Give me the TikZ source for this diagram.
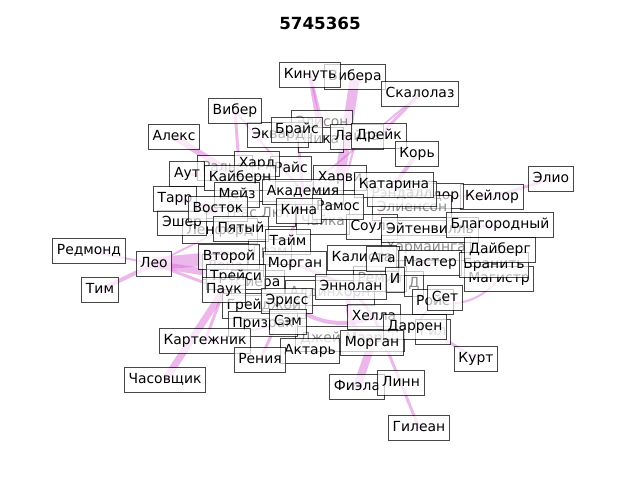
\documentclass[tikz,border=0pt]{standalone}
\usepackage{fontspec}
\setmainfont{DejaVu Sans}
\definecolor{ec}{RGB}{218,112,214}
\tikzset{
  lbl/.style={draw=black, draw opacity=0.72, fill=white, fill opacity=0.7, text opacity=1,
    line width=1pt, inner xsep=4.2pt, inner ysep=4.3pt, text height=11.3pt, text depth=4.2pt,
    font=\fontsize{13.9}{16}\selectfont},
  faint/.style={lbl, text opacity=0.45},
  ed/.style={draw=ec, draw opacity=0.5},
}
\begin{document}
\begin{tikzpicture}[x=1pt,y=-1pt]
\useasboundingbox (0,0) rectangle (640,480);
\node[font=\bfseries\fontsize{16.7}{19}\selectfont] (title) at (320,23) {5745365};
% coordinates of nodes
\foreach \n/\x/\y in {
 elison/322/123, ralf/225/168, harvi/340/178, rendall/402/194, elienson/412/208, teodor/433/196,
 raslut/262/214, chaika/323/222, souls/372/227, harm/426/248, lenford/220/231, grem/270/252,
 lena/225/267, siera/258/283, aldin/330/293, remia/380/279, kalista/362/258, djey/350/339,
 gil/433/332, greyd/264/306, prizrak/263/324, nika/321/140, layla/357/137, ekvard/278/135,
 rays/291/169, esher/182/223,
 vibera/355/77, kinut/310/75, skal/420/94, viber/235/111, aleks/174/137, brays/297/130,
 dreyk/379/136, kor/417/154, elio/551/179, aut/187/174, kayb/240/178, hard/257/164,
 tarr/175/199, meyz/237/195, akad/303/192, katar/394/185, vostok/218/209, ramos/338/207,
 kina/299/211, pyat/241/229, keylor/492/197, eyten/430/230, blag/500/225, taym/288/242,
 redm/89/251, leo/154/264, tim/100/290, vtor/229/257, morgan/295/264, aga/383/259,
 master/430/263, dayb/500/250, bran/494/265, magis/499/279, treysi/236/277, pauk/224/290,
 ii/395/280, dd/414/284, ennol/351/287, eriss/287/301, roys/433/302, set/445/298,
 hella/374/317, sem/288/322, darren/415/327, kartezh/205/341, morgan2/372/343,
 aktar/310/351, reniya/260/360, kurt/476/359, chasov/165/380, fiela/357/387, linn/401/383,
 gilean/419/428}
 {\coordinate (c-\n) at (\x,\y);}
% edges
\draw[ed, line width=13pt] (c-leo) -- (c-vtor);
\draw[ed, line width=7pt] (c-leo) -- (c-treysi);
\draw[ed, line width=3pt] (c-leo) -- (c-pauk);
\draw[ed, line width=2pt] (c-redm) -- (c-leo);
\draw[ed, line width=4pt] (c-tim) -- (c-leo);
\draw[ed, line width=2pt] (c-lenford) -- (c-leo);
\draw[ed, line width=6pt] (c-aleks) -- (c-kayb);
\draw[ed, line width=3pt] (c-viber) -- (c-kayb);
\draw[ed, line width=2pt] (c-viber) -- (c-akad);
\draw[ed, line width=10pt] (c-vibera) -- (c-harvi);
\draw[ed, line width=4pt] (c-kinut) -- (c-nika);
\draw[ed, line width=3pt] (c-kinut) -- (c-elison);
\draw[ed, line width=3pt] (c-skal) -- (c-dreyk);
\draw[ed, line width=2pt] (c-skal) -- (c-akad);
\draw[ed, line width=4pt] (c-kor) -- (c-katar);
\draw[ed, line width=3pt] (c-elio) -- (c-keylor);
\draw[ed, line width=2pt] (c-keylor) -- (c-rendall);
\draw[ed, line width=3pt] (c-kurt) -- (c-gil);
\draw[ed, line width=3pt] (c-gilean) -- (c-hella);
\draw[ed, line width=8pt] (c-fiela) -- (c-morgan2);
\draw[ed, line width=7pt] (c-chasov) -- (c-pauk);
\draw[ed, line width=3pt] (c-reniya) -- (c-eriss);
\draw[ed, line width=3pt] (c-pauk) -- (c-kartezh);
\draw[ed, line width=2pt] (c-kartezh) -- (c-sem);
\draw[ed, line width=5pt] (c-ennol) to[bend right=40] (c-morgan2);
\draw[ed, line width=4pt] (c-eriss) to[bend right=30] (c-hella);
\draw[ed, line width=3pt] (c-aut) -- (c-kayb);
\draw[ed, line width=4pt] (c-tarr) -- (c-vostok);
\draw[ed, line width=3pt] (c-esher) -- (c-vostok);
\draw[ed, line width=2pt] (c-blag) -- (c-eyten);
\draw[ed, line width=2pt] (c-dayb) -- (c-master);
\draw[ed, line width=3pt] (c-akad) -- (c-kina);
\draw[ed, line width=3pt] (c-kina) -- (c-taym);
\draw[ed, line width=3pt] (c-morgan) -- (c-ennol);
\draw[ed, line width=2pt] (c-kalista) -- (c-master);
\draw[ed, line width=3pt] (c-ennol) -- (c-hella);
\draw[ed, line width=2pt] (c-roys) -- (c-darren);
\draw[ed, line width=2pt] (c-magis) to[bend left=30] (c-roys);
\draw[ed, line width=3pt] (c-meyz) -- (c-pyat);
\draw[ed, line width=2pt] (c-hard) -- (c-rays);
\draw[ed, line width=3pt] (c-brays) -- (c-akad);
\draw[ed, line width=2pt] (c-layla) -- (c-ramos);
\draw[ed, line width=2pt] (c-katar) -- (c-souls);
\draw[ed, line width=2pt] (c-sem) -- (c-aktar);
\draw[ed, line width=2pt] (c-eriss) -- (c-sem);
\draw[ed, line width=2pt] (c-vtor) -- (c-morgan);
\draw[ed, line width=2pt] (c-aga) -- (c-remia);
% background labels
\node[faint] (elison) at (c-elison) {Элисон};
\node[faint] (ralf) at (c-ralf) {Ральф};
\node[lbl] (harvi) at (c-harvi) {Харви};
\node[lbl] (keylor) at (c-keylor) {Кейлор};
\node[lbl] (teodor) at (c-teodor) {Теодор};
\node[faint] (elienson) at (c-elienson) {Элиенсон};
\node[faint] (rendall) at (c-rendall) {Рэндалл};
\node[faint] (raslut) at (c-raslut) {Рас Лют};
\node[faint] (chaika) at (c-chaika) {Чайка};
\node[lbl] (souls) at (c-souls) {Соулс};
\node[faint] (harm) at (c-harm) {Хармаинга};
\node[lbl] (lenford) at (c-lenford) {Ленфорд};
\node[faint] (grem) at (c-grem) {Грэм};
\node[faint] (lena) at (c-lena) {Лена};
\node[lbl] (siera) at (c-siera) {Сиера};
\node[faint] (aldin) at (c-aldin) {Алдинхорн};
\node[faint] (remia) at (c-remia) {Ремиа};
\node[faint] (dd) at (c-dd) {Д};
\node[lbl] (kalista) at (c-kalista) {Калиста};
\node[faint] (djey) at (c-djey) {Джей Маэран};
\node[faint] (gil) at (c-gil) {Гил};
\node[lbl] (greyd) at (c-greyd) {Грейджой};
\node[lbl] (prizrak) at (c-prizrak) {Призрак};
\node[lbl] (nika) at (c-nika) {Ника};
\node[lbl] (layla) at (c-layla) {Лайла};
\node[lbl] (ekvard) at (c-ekvard) {Эквард};
\node[lbl] (rays) at (c-rays) {Райс};
\node[lbl] (esher) at (c-esher) {Эшер};
% foreground labels
\node[lbl] (vibera) at (c-vibera) {Вибера};
\node[lbl] (kinut) at (c-kinut) {Кинуть};
\node[lbl] (skal) at (c-skal) {Скалолаз};
\node[lbl] (viber) at (c-viber) {Вибер};
\node[lbl] (aleks) at (c-aleks) {Алекс};
\node[lbl] (brays) at (c-brays) {Брайс};
\node[lbl] (dreyk) at (c-dreyk) {Дрейк};
\node[lbl] (kor) at (c-kor) {Корь};
\node[lbl] (elio) at (c-elio) {Элио};
\node[lbl] (aut) at (c-aut) {Аут};
\node[lbl] (hard) at (c-hard) {Хард};
\node[lbl] (kayb) at (c-kayb) {Кайберн};
\node[lbl] (tarr) at (c-tarr) {Тарр};
\node[lbl] (meyz) at (c-meyz) {Мейз};
\node[lbl] (akad) at (c-akad) {Академия};
\node[lbl] (katar) at (c-katar) {Катарина};
\node[lbl] (vostok) at (c-vostok) {Восток};
\node[lbl] (ramos) at (c-ramos) {Рамос};
\node[lbl] (kina) at (c-kina) {Кина};
\node[lbl] (pyat) at (c-pyat) {Пятый};
\node[lbl] (eyten) at (c-eyten) {Эйтенвилль};
\node[lbl] (blag) at (c-blag) {Благородный};
\node[lbl] (taym) at (c-taym) {Тайм};
\node[lbl] (redm) at (c-redm) {Редмонд};
\node[lbl] (leo) at (c-leo) {Лео};
\node[lbl] (tim) at (c-tim) {Тим};
\node[lbl] (vtor) at (c-vtor) {Второй};
\node[lbl] (morgan) at (c-morgan) {Морган};
\node[lbl] (aga) at (c-aga) {Ага};
\node[lbl] (master) at (c-master) {Мастер};
\node[lbl] (magis) at (c-magis) {Магистр};
\node[lbl] (bran) at (c-bran) {Бранить};
\node[lbl] (dayb) at (c-dayb) {Дайберг};
\node[lbl] (treysi) at (c-treysi) {Трейси};
\node[lbl] (pauk) at (c-pauk) {Паук};
\node[lbl] (ii) at (c-ii) {И};
\node[lbl] (ennol) at (c-ennol) {Эннолан};
\node[lbl] (eriss) at (c-eriss) {Эрисс};
\node[lbl] (roys) at (c-roys) {Ройс};
\node[lbl] (set) at (c-set) {Сет};
\node[lbl] (hella) at (c-hella) {Хелла};
\node[lbl] (sem) at (c-sem) {Сэм};
\node[lbl] (darren) at (c-darren) {Даррен};
\node[lbl] (kartezh) at (c-kartezh) {Картежник};
\node[lbl] (morgan2) at (c-morgan2) {Морган};
\node[lbl] (aktar) at (c-aktar) {Актарь};
\node[lbl] (reniya) at (c-reniya) {Рения};
\node[lbl] (kurt) at (c-kurt) {Курт};
\node[lbl] (chasov) at (c-chasov) {Часовщик};
\node[lbl] (fiela) at (c-fiela) {Фиэла};
\node[lbl] (linn) at (c-linn) {Линн};
\node[lbl] (gilean) at (c-gilean) {Гилеан};
\end{tikzpicture}
\end{document}
